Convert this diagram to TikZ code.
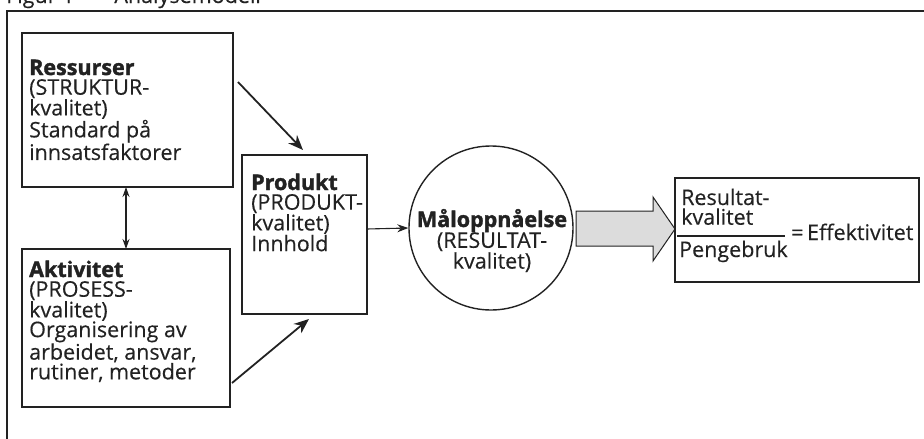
\documentclass[tikz,border=0pt]{standalone}
\usepackage{fontspec}
\setmainfont{Open Sans}[UprightFeatures={FakeBold=0.35},BoldFeatures={FakeBold=1.6}]
\usetikzlibrary{arrows.meta}
\definecolor{ink}{HTML}{222222}
\definecolor{arrowgray}{HTML}{DCDCDC}
\newcommand{\tblock}[2]{\parbox[t]{#1}{\raggedright #2}}
\newcommand{\cblock}[2]{\parbox[t]{#1}{\centering #2}}
\begin{document}
\begin{tikzpicture}[x=1pt,y=-1pt,
  box/.style={draw=ink,line width=1.4pt},
  txt/.style={anchor=base west,inner sep=0pt,text=ink,font=\fontsize{21.5}{19.7}\selectfont},
  ctxt/.style={anchor=base,inner sep=0pt,text=ink,font=\fontsize{21.5}{20.8}\selectfont},
  bigarrow/.style={draw=ink,line width=1.8pt,-{Stealth[length=15pt,width=12pt]}},
  thinarrow/.style={draw=ink,line width=1.1pt,-{Stealth[length=11pt,width=8pt]}},
  dblarrow/.style={draw=ink,line width=1.1pt,{Stealth[length=10pt,width=7pt]}-{Stealth[length=10pt,width=7pt]}}]
\useasboundingbox (0,0) rectangle (924,439);
% clipped caption (cut off at the top edge, as in the reference)
\node[txt] (cap) at (6,3) {Figur 1\hspace{40pt}Analysemodell};
% frame
\draw[ink,line width=2.4pt] (7,439) -- (7,11) -- (924,11);
% boxes
\draw[box] (22,33) rectangle (233,187);
\coordinate (resN) at (126,187);
\draw[box] (22,249) rectangle (230,407);
\coordinate (aktN) at (126,249);
\draw[box] (242,155) rectangle (367,314);
\node[box,circle,minimum size=164pt,inner sep=0pt] (mal) at (491,228) {};
\draw[box] (675,178) rectangle (919,282);
% texts
\node[txt] (tres) at (29,75) {\tblock{200pt}{\bfseries Ressurser\\ \mdseries (STRUKTUR-\\ kvalitet)\\ Standard på\\ innsatsfaktorer}};
\node[txt] (takt) at (29,277) {\tblock{200pt}{\bfseries Aktivitet\\ \mdseries (PROSESS-\\ kvalitet)\\ Organisering av\\ arbeidet, ansvar,\\ rutiner, metoder}};
\node[txt] (tpro) at (251,190) {\tblock{120pt}{\bfseries Produkt\\ \mdseries (PRODUKT-\\ kvalitet)\\ Innhold}};
\node[ctxt] (tmal) at (492,227) {\cblock{164pt}{\bfseries Måloppnåelse\\ \mdseries (RESULTAT-\\ kvalitet)}};
\node[txt] (tr1) at (681,205) {\tblock{120pt}{Resultat-\\ kvalitet}};
\node[txt] (tr2) at (679,257) {Pengebruk};
\draw[ink,line width=1.1pt] (677,236) -- (785,236);
\node[txt] (teq) at (791,240) {=\,Effektivitet};
% connectors
\coordinate (a1) at (238,82);
\coordinate (a1e) at (303,150);
\draw[bigarrow] (a1) -- (a1e);
\coordinate (a2) at (232,383);
\coordinate (a2e) at (309,319);
\draw[bigarrow] (a2) -- (a2e);
\draw[dblarrow] (resN) -- (aktN);
\coordinate (pE) at (367,229);
\draw[thinarrow] (pE) -- (mal.west);
% gray block arrow
\draw[ink,line width=1pt,fill=arrowgray] (576,211) -- (653,211) -- (653,197) -- (675,229) -- (653,261) -- (653,246) -- (576,246) -- cycle;
\end{tikzpicture}
\end{document}
